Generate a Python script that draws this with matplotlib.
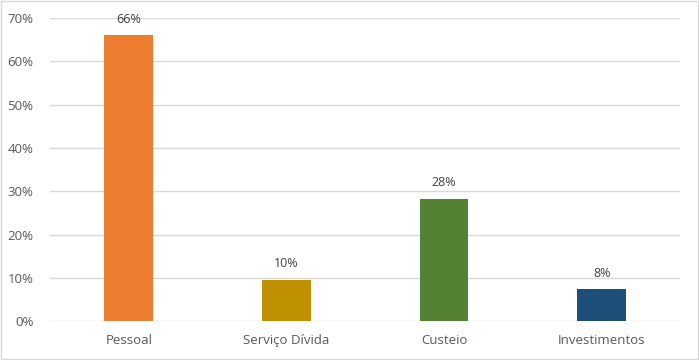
import matplotlib.pyplot as plt
from matplotlib.patches import Rectangle
from matplotlib.ticker import FuncFormatter

categories = ['Pessoal', 'Serviço Dívida', 'Custeio', 'Investimentos']
values = [66.0, 9.5, 28.2, 7.4]
labels = ['66%', '10%', '28%', '8%']
colors = ['#ED7D31', '#BF9000', '#548235', '#1F4E79']

plt.rcParams['font.family'] = ['Open Sans', 'DejaVu Sans']

fig = plt.figure(figsize=(6.99, 3.6), dpi=100)
ax = fig.add_axes([0.0715, 0.108, 0.902, 0.842])

x = range(len(categories))
bars = ax.bar(x, values, width=0.31, color=colors, zorder=3)
for b, lab in zip(bars, labels):
    ax.text(b.get_x() + b.get_width() / 2, b.get_height() + 2.2, lab,
            ha='center', va='bottom', fontsize=9, color='#404040')

ax.set_xlim(-0.5, len(categories) - 0.5)
ax.set_ylim(0, 70)
ax.set_yticks(range(0, 71, 10))
ax.yaxis.set_major_formatter(FuncFormatter(lambda v, p: f'{v:.0f}%'))
ax.set_xticks(list(x))
ax.set_xticklabels(categories)
ax.tick_params(axis='both', length=0, labelsize=9.5, colors='#595959')
ax.tick_params(axis='x', pad=9)
ax.tick_params(axis='y', pad=12)
ax.grid(axis='y', color='#D9D9D9', linewidth=1, zorder=0)
for s in ax.spines.values():
    s.set_visible(False)

# light frame around the chart area
fig.patches.append(Rectangle((0.001, 0.002), 0.997, 0.995, transform=fig.transFigure,
                             fill=False, edgecolor='#D9D9D9', linewidth=1))

fig.savefig('out.png', dpi=100)
